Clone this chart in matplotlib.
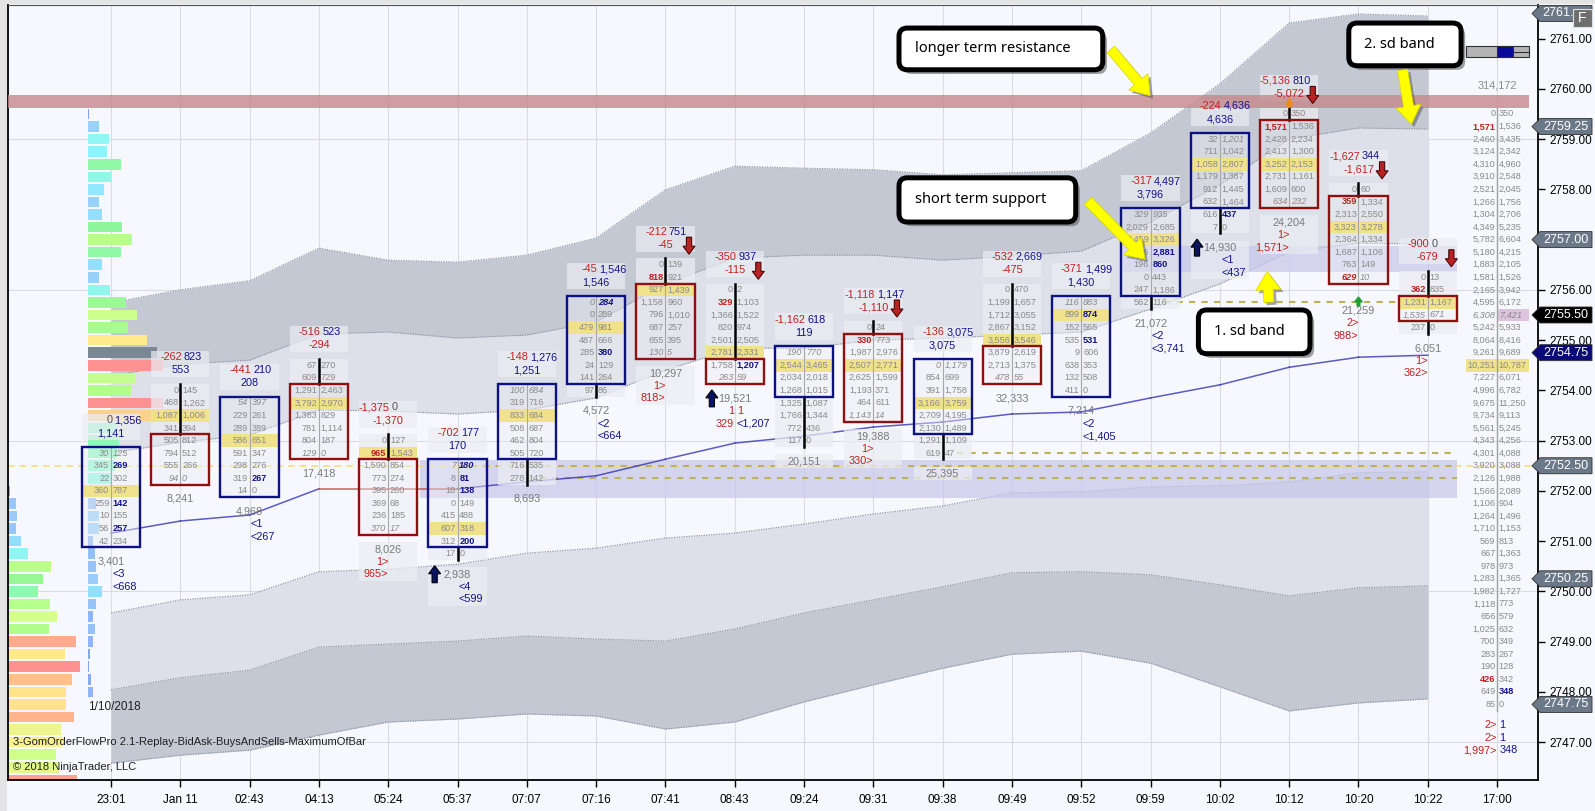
import matplotlib
matplotlib.use("Agg")
import matplotlib.pyplot as plt
import matplotlib.transforms as mtrans
import matplotlib.patheffects as pe
from matplotlib.patches import Rectangle, FancyBboxPatch, FancyArrowPatch, Polygon
import numpy as np

plt.rcParams['font.family'] = ['Liberation Sans', 'DejaVu Sans']

TICK = 0.25

# ---------------- data ----------------
times = ["23:01", "Jan 11", "02:43", "04:13", "05:24", "05:37", "07:07", "07:16", "07:41", "08:43",
         "09:24", "09:31", "09:38", "09:49", "09:52", "09:59", "10:02", "10:12", "10:20", "10:22", "17:00"]

highs = [2752.75, 2754.0, 2753.75, 2754.5, 2753.0, 2752.5, 2754.0, 2755.75, 2756.5, 2756.0,
         2754.75, 2755.25, 2754.5, 2756.0, 2755.75, 2757.5, 2759.0, 2759.5, 2758.0, 2756.25]
opens = [2751.0, 2753.0, 2752.0, 2754.0, 2752.5, 2751.0, 2752.75, 2754.25, 2756.0, 2754.5,
         2754.0, 2755.0, 2753.25, 2754.75, 2754.0, 2756.0, 2757.75, 2759.25, 2757.75, 2755.75]
closes = [2752.75, 2752.25, 2753.75, 2752.75, 2751.25, 2752.5, 2754.0, 2755.75, 2754.75, 2754.25,
          2754.75, 2753.5, 2754.5, 2754.25, 2755.75, 2757.5, 2759.0, 2757.75, 2756.25, 2755.5]
pocs = [2752.0, 2753.5, 2753.0, 2753.75, 2752.75, 2751.25, 2753.5, 2755.25, 2756.0, 2754.75,
        2754.5, 2754.5, 2753.75, 2755.0, 2755.5, 2757.0, 2758.5, 2758.5, 2757.25, 2755.75]

# "!" marks an imbalance value (bold)
bids = [
    ["30", "345", "22", "360", "259", "10", "56", "42"],
    ["0", "468", "1,087", "341", "505", "794", "555", "94"],
    ["54", "229", "289", "586", "591", "298", "319", "14"],
    ["67", "609", "1,291", "3,792", "1,383", "781", "804", "129"],
    ["0", "!965", "1,590", "773", "395", "369", "236", "370"],
    ["7", "8", "18", "0", "415", "607", "312", "17"],
    ["100", "319", "833", "508", "462", "505", "716", "278"],
    ["0", "0", "479", "487", "285", "24", "141", "97"],
    ["0", "!818", "927", "1,158", "796", "687", "655", "130"],
    ["0", "!329", "1,366", "820", "2,501", "2,781", "1,758", "263"],
    ["190", "2,544", "2,034", "1,268", "1,325", "1,766", "772", "117"],
    ["0", "!330", "1,987", "2,507", "2,625", "1,193", "464", "1,143"],
    ["0", "854", "391", "3,166", "2,709", "2,130", "1,291", "619"],
    ["0", "1,199", "1,712", "2,867", "3,556", "3,879", "2,713", "478"],
    ["116", "899", "152", "535", "9", "638", "132", "411"],
    ["329", "2,029", "2,459", "16", "196", "0", "247", "562"],
    ["32", "711", "1,058", "1,179", "912", "632", "616", "7"],
    ["0", "!1,571", "2,428", "2,413", "3,252", "2,731", "1,609", "634"],
    ["0", "!359", "2,313", "3,323", "2,364", "1,687", "763", "!629"],
    ["0", "!362", "1,231", "1,535", "237"],
]
asks = [
    ["125", "!269", "302", "787", "!142", "155", "!257", "234"],
    ["145", "1,262", "1,006", "394", "812", "512", "266", "0"],
    ["397", "261", "389", "651", "347", "276", "!267", "0"],
    ["270", "729", "2,463", "2,970", "829", "1,114", "187", "0"],
    ["127", "1,543", "854", "274", "260", "68", "185", "17"],
    ["!180", "!81", "!138", "149", "488", "318", "!200", "0"],
    ["684", "716", "684", "687", "804", "720", "535", "142"],
    ["!284", "289", "981", "666", "!380", "129", "264", "86"],
    ["139", "921", "1,439", "960", "1,010", "257", "395", "5"],
    ["2", "1,103", "1,522", "974", "2,505", "2,331", "!1,207", "59"],
    ["770", "3,465", "2,018", "1,015", "1,087", "1,344", "436", "0"],
    ["24", "773", "2,976", "2,771", "1,599", "371", "611", "14"],
    ["1,179", "699", "1,758", "3,759", "4,195", "1,489", "1,109", "47"],
    ["470", "1,657", "3,055", "3,152", "3,546", "2,619", "1,375", "55"],
    ["883", "!874", "565", "!531", "606", "353", "508", "0"],
    ["935", "2,685", "3,326", "!2,881", "!860", "443", "1,186", "116"],
    ["1,201", "1,042", "2,807", "1,387", "1,445", "1,464", "!437", "0"],
    ["350", "1,536", "2,234", "1,300", "2,153", "1,161", "600", "232"],
    ["60", "1,334", "2,550", "3,278", "1,334", "1,106", "149", "10"],
    ["13", "835", "1,167", "671", "0"],
]

hdr_range = ["0 1,356", "-262 823", "-441 210", "-516 523", "-1,375 0", "-702 177", "-148 1,276",
             "-45 1,546", "-212 751", "-350 937", "-1,162 618", "-1,118 1,147", "-136 3,075",
             "-532 2,669", "-371 1,499", "-317 4,497", "-224 4,636", "-5,136 810", "-1,627 344", "-900 0"]
hdr_delta = ["1,141", "553", "208", "-294", "-1,370", "170", "1,251", "1,546", "-45", "-115",
             "119", "-1,110", "3,075", "-475", "1,430", "3,796", "4,636", "-5,072", "-1,617", "-679"]
footers = [["3,401", "<3", "<668"], ["8,241"], ["4,968", "<1", "<267"], ["17,418"],
           ["8,026", "1>", "965>"], ["2,938", "<4", "<599"], ["8,693"], ["4,572", "<2", "<664"],
           ["10,297", "1>", "818>"], ["19,521", "1 1", "329 <1,207"], ["20,151"],
           ["19,388", "1>", "330>"], ["25,395"], ["32,333"], ["7,214", "<2", "<1,405"],
           ["21,072", "<2", "<3,741"], ["14,930", "<1", "<437"], ["24,204", "1>", "1,571>"],
           ["21,259", "2>", "988>"], ["6,051", "1>", "362>"]]
footer_bg = [4, 5, 8, 10, 11, 12, 16, 17]
footer_shift = {18: 0.25}

up_signal = [5, 9, 16]
down_signal = [8, 9, 11, 17, 18, 19]

# session ladder (17:00 column)
ladder_top = 2759.5
ladder_total = "314,172"
ladder_bid = ["0", "!1,571", "2,460", "3,124", "4,310", "3,910", "2,521", "1,266", "1,304", "4,349",
              "5,782", "5,180", "1,883", "1,581", "2,165", "4,595", "6,308", "5,242", "8,064", "9,261",
              "10,251", "7,227", "4,996", "9,675", "9,734", "5,561", "4,343", "4,301", "3,920", "2,126",
              "1,566", "1,106", "1,264", "1,710", "569", "667", "978", "1,283", "1,982", "1,118",
              "656", "1,025", "700", "283", "190", "!426", "649", "85"]
ladder_ask = ["350", "1,536", "3,435", "2,342", "4,960", "2,548", "2,045", "1,756", "2,706", "5,235",
              "6,604", "4,215", "2,105", "1,526", "3,942", "6,172", "7,421", "5,933", "8,416", "9,689",
              "10,787", "6,071", "6,782", "11,250", "9,113", "5,245", "4,256", "4,088", "3,088", "1,988",
              "2,089", "904", "1,496", "1,153", "813", "1,363", "973", "1,365", "1,727", "773",
              "579", "632", "349", "267", "128", "342", "!348", "0"]
ladder_poc = 2754.5
ladder_last = 2755.5
ladder_footer = ["2> 1", "2> 1", "1,997> 348"]

# VWAP and deviation bands (per bar)
vwap = [2751.16, 2751.40, 2751.52, 2752.04, 2752.04, 2752.04, 2752.18, 2752.30, 2752.63, 2752.95,
        2753.09, 2753.27, 2753.37, 2753.53, 2753.57, 2753.85, 2754.11, 2754.46, 2754.66, 2754.70]
up3 = [2755.74, 2756.00, 2756.18, 2756.83, 2756.59, 2756.55, 2756.69, 2757.03, 2757.99, 2758.46,
       2758.42, 2758.39, 2758.29, 2758.33, 2758.37, 2759.12, 2760.10, 2761.31, 2761.49, 2761.45]
up2 = [2754.29, 2754.52, 2754.60, 2755.12, 2755.16, 2755.04, 2755.10, 2755.36, 2756.12, 2756.63,
       2756.69, 2756.69, 2756.59, 2756.67, 2756.77, 2757.35, 2758.09, 2759.00, 2759.22, 2759.20]
up1 = [2752.75, 2752.97, 2753.11, 2753.61, 2753.59, 2753.53, 2753.61, 2753.85, 2754.40, 2754.84,
       2754.84, 2755.00, 2755.04, 2755.10, 2755.16, 2755.62, 2756.12, 2756.75, 2756.93, 2756.91]
lo1 = [2749.57, 2749.83, 2749.93, 2750.39, 2750.44, 2750.54, 2750.76, 2750.86, 2751.06, 2751.16,
       2751.34, 2751.54, 2751.70, 2751.96, 2751.98, 2752.08, 2752.10, 2752.18, 2752.36, 2752.38]
lo2 = [2748.04, 2748.28, 2748.43, 2748.89, 2748.95, 2749.01, 2749.11, 2749.05, 2749.01, 2749.25,
       2749.57, 2749.83, 2750.09, 2750.37, 2750.39, 2750.33, 2750.13, 2749.91, 2750.07, 2750.11]
lo3 = [2746.58, 2746.74, 2746.84, 2747.14, 2747.40, 2747.46, 2747.56, 2747.52, 2747.26, 2747.40,
       2747.80, 2748.14, 2748.47, 2748.75, 2748.81, 2748.57, 2748.10, 2747.62, 2747.78, 2747.86]

# volume profiles
prof_top = 2759.5
prof_vol = [1.5, 11, 21, 19, 33, 23, 16, 11, 14, 34, 44, 33, 14, 11, 22, 38, 49, 40, 59, 69,
            75, 47, 43, 75, 64, 29, 31, 29, 27, 24, 12, 8, 11, 11, 5, 7, 8, 10, 14, 8,
            5, 7, 5, 2, 1, 3, 5]
prof_poc = 2754.75
prev_top = 2752.0
prev_vol = [2, 8, 9, 8, 13, 20, 43, 35, 30, 42, 49, 41, 68, 57, 72, 64, 58, 58, 66, 53, 55, 48, 51, 69]

# zones
resist_zone = (2759.62, 2759.88)
support_zones = [(4.46, 19.42, 2751.86, 2752.61), (14.58, 19.42, 2756.36, 2756.87)]
olive_levels = [(5.0, 2752.5), (6.0, 2752.25), (12.2, 2752.75), (15.2, 2755.75)]
session_level = 2752.5

# right-axis price markers
tag_prices = [2761.5, 2759.25, 2757.0, 2755.5, 2754.75, 2752.5, 2750.25, 2747.75]
tag_colors = ['#6B7888', '#6B7888', '#6B7888', '#000000', '#0B0B78', '#6B7888', '#6B7888', '#6B7888']

# callouts
note_text = ["longer term resistance", "short term support", "2. sd band", "1. sd band"]
note_x = [(11.37, 14.31), (11.37, 13.92), (17.86, 19.48), (15.69, 17.30)]
note_y = [(2760.38, 2761.21), (2757.35, 2758.23), (2760.46, 2761.31), (2754.73, 2755.60)]
note_arrow_from = [(14.40, 2760.83), (14.07, 2757.81), (18.63, 2760.43), (16.71, 2755.70)]
note_arrow_to = [(15.02, 2759.82), (14.95, 2756.57), (18.77, 2759.24), (16.68, 2756.42)]

# ---------------- figure ----------------
W, H = 1595, 811
fig = plt.figure(figsize=(W / 100, H / 100), dpi=100)
fig.patch.set_facecolor('#F7F8FD')
ax = fig.add_axes([8 / W, 1 - 780 / H, (1538 - 8) / W, (780 - 5) / H])
ax.set_facecolor('#F7F8FD')
ax.set_xlim(-1.486, 20.59)
ax.set_ylim(2746.246, 2761.669)
PXX = 1 / 69.3   # one pixel in bar units
PXY = 1 / 50.25  # one pixel in price units

fig.add_artist(Rectangle((0, 0), 7 / W, 1, transform=fig.transFigure, fc='#E4E4E4', lw=0))
fig.add_artist(Rectangle((0, 1 - 4 / H), 1, 4 / H, transform=fig.transFigure, fc='#E4E4E4', lw=0))

for s in ['left', 'bottom', 'right']:
    ax.spines[s].set_color('black')
    ax.spines[s].set_linewidth(1.3)
ax.spines['top'].set_color('#505050')
ax.spines['top'].set_linewidth(0.8)

yt = np.arange(2747, 2762)
ax.yaxis.tick_right()
ax.set_yticks(yt)
ax.set_yticklabels(["" if any(abs(v - p) < 1e-6 for p in tag_prices) else f"{v:.2f}" for v in yt])
ax.set_xticks(np.arange(len(times)))
ax.set_xticklabels(times)
ax.tick_params(axis='y', direction='out', length=5, width=1, labelsize=8.5, pad=3)
ax.tick_params(axis='x', direction='out', length=5, width=1, labelsize=8.5, pad=5)

# grid
for i in range(len(times)):
    ax.axvline(i, color='#D9DCE5', lw=0.8, zorder=0.5)
for p in [2747, 2750, 2753, 2756, 2759]:
    ax.axhline(p, color='#D9DCE5', lw=0.8, zorder=0.5)

# bands
xb = np.arange(len(vwap))
dark, light = '#C3C8D3', '#DDE0E8'
ax.fill_between(xb, up3, up2, color=dark, lw=0, zorder=1)
ax.fill_between(xb, up2, up1, color=light, lw=0, zorder=1)
ax.fill_between(xb, lo1, lo2, color=light, lw=0, zorder=1)
ax.fill_between(xb, lo2, lo3, color=dark, lw=0, zorder=1)
for line in [up3, up2, up1, lo1, lo2, lo3]:
    ax.plot(xb, line, color='#8E96A6', lw=0.9, ls=(0, (1, 1)), zorder=1.1)

# zones
for x0, x1, p0, p1 in support_zones:
    ax.add_patch(Rectangle((x0, p0), x1 - x0, p1 - p0, fc='#C6C6EA', alpha=0.7, lw=0, zorder=1.5))


def prof_color(r):
    stops = [0.0, 0.12, 0.25, 0.36, 0.46, 0.58, 0.68, 0.78, 0.88, 1.0]
    cols = ['#7C9EF2', '#9CC8FA', '#8FF3FF', '#8FFFD2', '#8FF59A', '#B4FF8C', '#D6FF8C',
            '#FFEE8C', '#FFC48C', '#FF9191']
    rgb = np.array([matplotlib.colors.to_rgb(c) for c in cols])
    return tuple(np.interp(r, stops, rgb[:, k]) for k in range(3))


pr = np.array([prof_top - k * TICK for k in range(len(prof_vol))])
pv = np.array(prof_vol)
pcols = [prof_color(v / pv.max()) for v in pv]
pcols = ['#7A8896' if abs(p - prof_poc) < 1e-6 else c for p, c in zip(pr, pcols)]
ax.barh(pr, pv * PXX, left=-0.332, height=0.21, color=pcols, lw=0, zorder=2.4)
qr = np.array([prev_top - k * TICK for k in range(len(prev_vol))])
qv = np.array(prev_vol)
ax.barh(qr, qv * PXX, left=-1.486, height=0.21, color=[prof_color(v / qv.max()) for v in qv],
        lw=0, zorder=2.4)

# dashed levels
ax.axhline(session_level, color='#F0E07A', ls=(0, (4, 3)), lw=1.2, zorder=2.2)
for x0, p in olive_levels:
    ax.plot([x0, 19.42], [p, p], color='#BDB25C', ls=(0, (3, 3)), lw=1.5, zorder=2.3)

# vwap
for k in range(len(vwap) - 1):
    c = '#3434B4' if vwap[k + 1] > vwap[k] else '#C03838'
    ax.plot([k, k + 1], [vwap[k], vwap[k + 1]], color=c, lw=1.1, alpha=0.8, zorder=2.5)

# resistance zone
ax.add_patch(Rectangle((-1.486, resist_zone[0]), 21.95, resist_zone[1] - resist_zone[0],
                       fc='#C5878B', alpha=0.8, lw=0, zorder=3.1))

GRAY = '#8A8A8A'
RED = '#C02020'
BLUE = '#12128C'
HW = 0.42
CELL_FS = 6.6
FS = 7.8
BG = '#EBEDF3'


def sval_color(s):
    if s == '0':
        return '#505050'
    return RED if s.startswith('-') else BLUE


def cell_text(x, y, s, ha, bold_color, italic):
    bold = s.startswith('!')
    s = s.lstrip('!')
    ax.text(x, y, s, ha=ha, va='center', fontsize=CELL_FS,
            color=bold_color if bold else GRAY, fontweight='bold' if bold else 'normal',
            fontstyle='italic' if italic else 'normal', zorder=5)


def block_arrow(x, tip, direction, fc, ec, length=17, head=8, hw=6, sw=2.6):
    # direction +1 points up, -1 points down; sizes in pixels
    d = direction
    base = tip - d * length * PXY
    neck = tip - d * head * PXY
    pts = [(x, tip), (x + hw * PXX, neck), (x + sw * PXX, neck), (x + sw * PXX, base),
           (x - sw * PXX, base), (x - sw * PXX, neck), (x - hw * PXX, neck)]
    ax.add_patch(Polygon(pts, closed=True, fc=fc, ec=ec, lw=0.8, zorder=5.5))


for i in range(len(highs)):
    hi = highs[i]
    n = len(bids[i])
    lo = hi - (n - 1) * TICK
    top, bot = max(opens[i], closes[i]), min(opens[i], closes[i])
    up = closes[i] >= opens[i]

    # header
    ax.add_patch(Rectangle((i - HW, hi + 0.26), 2 * HW, 0.52, fc=BG, alpha=0.7, lw=0, zorder=3))
    a, b = hdr_range[i].split(' ')
    ax.text(i + 0.02, hi + 0.66, a, ha='right', va='center', fontsize=FS, color=sval_color(a), zorder=5)
    ax.text(i + 0.05, hi + 0.66, b, ha='left', va='center', fontsize=FS, color=sval_color(b), zorder=5)
    ax.text(i, hi + 0.40, hdr_delta[i], ha='center', va='center', fontsize=FS,
            color=sval_color(hdr_delta[i]), zorder=5)

    # cells
    for k in range(n):
        p = hi - k * TICK
        inside = bot - 1e-6 <= p <= top + 1e-6
        ax.add_patch(Rectangle((i - HW, p - TICK / 2), 2 * HW, TICK, fc=BG,
                               alpha=0.45 if inside else 0.75, lw=0, zorder=3))
        if abs(p - pocs[i]) < 1e-6:
            ax.add_patch(Rectangle((i - HW, p - TICK / 2), 2 * HW, TICK, fc='#F0E28A',
                                   lw=0, zorder=3.2))
        italic = abs(p - closes[i]) < 1e-6
        cell_text(i - 0.025, p, bids[i][k], 'right', RED, italic)
        cell_text(i + 0.025, p, asks[i][k], 'left', BLUE, italic)

    ax.plot([i, i], [hi + TICK / 2, lo - TICK / 2], color='#A8A8A8', lw=0.8, zorder=3.4)
    if hi > top:
        ax.plot([i, i], [hi + TICK / 2, top + TICK / 2], color='black', lw=1.8, zorder=3.5)
    if lo < bot:
        ax.plot([i, i], [bot - TICK / 2, lo - TICK / 2], color='black', lw=1.8, zorder=3.5)
    ax.add_patch(Rectangle((i - HW, bot - TICK / 2), 2 * HW, top - bot + TICK, fill=False,
                           ec='#0C1284' if up else '#8E1010', lw=1.7, zorder=4))

    # footer
    f0 = lo - 0.41 - footer_shift.get(i, 0)
    if i in footer_bg:
        nl = len(footers[i])
        ax.add_patch(Rectangle((i - HW, f0 - (nl - 1) * TICK - 0.13), 2 * HW, nl * TICK + 0.02,
                               fc=BG, alpha=0.7, lw=0, zorder=3))
    for k, line in enumerate(footers[i]):
        y = f0 - k * TICK
        if k == 0:
            ax.text(i, y, line, ha='center', va='center', fontsize=FS, color='#7A7A7A', zorder=5)
        elif ' ' in line:
            l, r = line.split(' ')
            ax.text(i - 0.01, y, l, ha='right', va='center', fontsize=FS, color=RED, zorder=5)
            ax.text(i + 0.03, y, r, ha='left', va='center', fontsize=FS,
                    color=BLUE if r.startswith('<') else RED, zorder=5)
        elif line.startswith('<'):
            ax.text(i + 0.02, y, line, ha='left', va='center', fontsize=FS, color=BLUE, zorder=5)
        else:
            ax.text(i, y, line, ha='right', va='center', fontsize=FS, color=RED, zorder=5)

    # signals
    if i in up_signal:
        block_arrow(i - 0.33, lo - 0.24, +1, '#0A1464', 'black')
    if i in down_signal:
        block_arrow(i + 0.34, hi + 0.21, -1, '#B82222', '#4A0808')

# small markers
block_arrow(17, 2759.62, -1, '#F08C1E', '#F08C1E', length=9, head=5, hw=4, sw=1.5)
block_arrow(18, 2755.86, +1, '#1E9E2E', '#1E9E2E', length=9, head=5, hw=4, sw=1.5)

# ladder
lx = len(times) - 1
lrows = [ladder_top - k * TICK for k in range(len(ladder_bid))]
ax.add_patch(Rectangle((lx - 0.45, ladder_poc - TICK / 2), 0.91, TICK, fc='#F0E28A', lw=0, zorder=3.2))
ax.add_patch(Rectangle((lx, ladder_last - TICK / 2), 0.46, TICK, fc='#DCC3DE', lw=0, zorder=3.2))
ax.plot([lx, lx], [ladder_top + TICK / 2, lrows[-1] - TICK / 2], color='#A0A0A0', lw=1.0, zorder=3.4)
ax.text(lx, ladder_top + 0.56, ladder_total, ha='center', va='center', fontsize=FS, color='#8A8A8A', zorder=5)
for p, b, a in zip(lrows, ladder_bid, ladder_ask):
    it = abs(p - ladder_last) < 1e-6
    cell_text(lx - 0.025, p, b, 'right', RED, it)
    cell_text(lx + 0.025, p, a, 'left', BLUE, it)
for k, line in enumerate(ladder_footer):
    l, r = line.split(' ')
    y = lrows[-1] - 0.41 - k * TICK
    ax.text(lx - 0.01, y, l, ha='right', va='center', fontsize=FS, color=RED, zorder=5)
    ax.text(lx + 0.03, y, r, ha='left', va='center', fontsize=FS, color=BLUE, zorder=5)

# scroll widget
ax.add_patch(Rectangle((19.55, 2760.63), 0.91, 0.22, fc='#B4B4B4', ec='#303030', lw=0.8, zorder=5))
ax.add_patch(Rectangle((20.0, 2760.63), 0.23, 0.22, fc='#0A0A9A', ec='#303030', lw=0.8, zorder=5.1))
ax.plot([20.23, 20.46], [2760.74, 2760.74], color='#303030', lw=0.8, zorder=5.2)

# labels
ax.text(-0.33, 2747.69, "1/10/2018", ha='left', va='center', fontsize=8.5, color='#202020', zorder=5)
ax.text(0.0033, 0.049, "3-GomOrderFlowPro 2.1-Replay-BidAsk-BuysAndSells-MaximumOfBar",
        transform=ax.transAxes, ha='left', va='center', fontsize=8, color='#202020', zorder=5)
ax.text(0.0033, 0.017, "\u00a9 2018 NinjaTrader, LLC", transform=ax.transAxes, ha='left',
        va='center', fontsize=8, color='#202020', zorder=5)

# callouts
for t, (x0, x1), (y0, y1), a0, a1 in zip(note_text, note_x, note_y, note_arrow_from, note_arrow_to):
    box = FancyBboxPatch((x0, y0), x1 - x0, y1 - y0, boxstyle='round,pad=0,rounding_size=0.12',
                         mutation_aspect=1.379, fc='white', ec='black', lw=3.6, zorder=7,
                         path_effects=[pe.SimplePatchShadow(offset=(3, -3), shadow_rgbFace='#606060', alpha=0.6),
                                       pe.Normal()])
    ax.add_patch(box)
    ax.text(x0 + 0.225, (y0 + y1) / 2, t, ha='left', va='center', fontsize=10.5,
            family=['Noto Sans', 'DejaVu Sans'], color='black', zorder=7.5)
    ax.add_patch(FancyArrowPatch(a0, a1, arrowstyle='simple,head_length=1.1,head_width=1.5,tail_width=0.6',
                                 mutation_scale=12, fc='#FFFF00', ec='#D8D800', lw=0.5, zorder=7,
                                 path_effects=[pe.SimplePatchShadow(offset=(2, -2), shadow_rgbFace='#505050', alpha=0.5),
                                               pe.Normal()]))

# price tags on the right axis
tr = mtrans.blended_transform_factory(fig.transFigure, ax.transData)
tx0, tx1, tip = 1532 / W, 1592 / W, 8 / W
hh = 8 * PXY
for p, c in zip(tag_prices, tag_colors):
    poly = Polygon([(tx0, p), (tx0 + tip, p + hh), (tx1, p + hh), (tx1, p - hh), (tx0 + tip, p - hh)],
                   closed=True, transform=tr, fc=c, ec='#303030', lw=0.6, clip_on=False, zorder=8)
    ax.add_patch(poly)
    label = f"{p:.2f}"
    if p > 2761:
        # the top marker is partly hidden behind the "F" button
        ax.text(tx0 + tip + 2 / W, p, label[:5], transform=tr, ha='left', va='center',
                fontsize=9, color='white', clip_on=False, zorder=8.5)
    else:
        ax.text((tx0 + tip + tx1) / 2, p, label, transform=tr, ha='center', va='center',
                fontsize=9, color='white', clip_on=False, zorder=8.5)

fig.add_artist(Rectangle((1573 / W, 1 - 27 / H), 19 / W, 18 / H, transform=fig.transFigure,
                         fc='#6E6E6E', ec='#E0E0E0', lw=0.8, zorder=9))
fig.text(1582.5 / W, 1 - 18 / H, "F", ha='center', va='center', fontsize=10, color='white', zorder=10)

fig.savefig("out.png", dpi=100, facecolor=fig.get_facecolor())
